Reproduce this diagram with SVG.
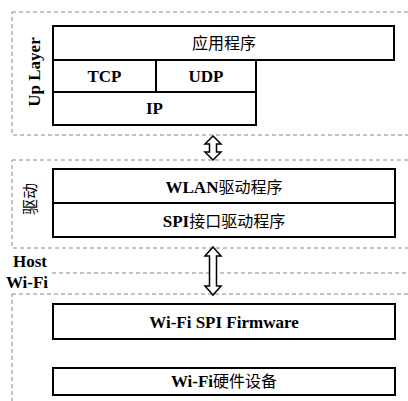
<svg xmlns="http://www.w3.org/2000/svg" width="408" height="401" viewBox="0 0 408 401">
<style>
.zone{fill:none;stroke:#888;stroke-width:1;stroke-dasharray:4,3}
.box{fill:#fff;stroke:#000;stroke-width:2}
.t{font-family:"Liberation Serif","Noto Sans CJK SC",serif;font-weight:bold;font-size:17px;text-anchor:middle;fill:#000}
.c{font-family:"Liberation Serif","Noto Sans CJK SC",serif;font-weight:normal;font-size:16px;text-anchor:middle;fill:#000}
.k{font-weight:normal;font-size:16px}
.arr{fill:#fff;stroke:#000;stroke-width:1.5;stroke-linejoin:miter}
</style>
<rect width="408" height="401" fill="#fff"/>
<g id="zones">
<rect class="zone" x="12" y="12" width="410" height="123"/>
<rect class="zone" x="12" y="160" width="410" height="88"/>
<rect class="zone" x="12" y="294" width="410" height="120"/>
<line class="zone" x1="52" y1="273" x2="408" y2="273" stroke="#aaa"/>
</g>
<g id="labels">
<text class="t" transform="translate(40,72) rotate(-90)">Up Layer</text>
<text class="c" transform="translate(30,199) rotate(-90)" dominant-baseline="central" font-size="15">驱动</text>
<text class="t" x="30" y="267">Host</text>
<text class="t" x="27" y="288">Wi-Fi</text>
</g>
<g id="app"><rect class="box" x="53" y="26" width="341" height="34"/><text class="c" x="224" y="49">应用程序</text></g>
<g id="tcp"><rect class="box" x="53" y="60" width="103" height="32"/><text class="t" x="104.5" y="82">TCP</text></g>
<g id="udp"><rect class="box" x="156" y="60" width="100" height="32"/><text class="t" x="206" y="82">UDP</text></g>
<g id="ip"><rect class="box" x="53" y="92" width="203" height="33"/><text class="t" x="154.5" y="114">IP</text></g>
<g id="wlan"><rect class="box" x="53" y="169" width="342" height="34"/><text class="t" x="224" y="193">WLAN<tspan class="k">驱动程序</tspan></text></g>
<g id="spi"><rect class="box" x="53" y="203" width="342" height="34"/><text class="t" x="224" y="227">SPI<tspan class="k">接口驱动程序</tspan></text></g>
<g id="firmware"><rect class="box" x="53" y="304" width="342" height="35"/><text class="t" x="224" y="328">Wi-Fi SPI Firmware</text></g>
<g id="hw"><rect class="box" x="53" y="368" width="342" height="27"/><text class="t" x="224" y="387">Wi-Fi<tspan class="k">硬件设备</tspan></text></g>
<g id="connectors">
<polygon class="arr" points="213,136 221,144 216.5,144 216.5,152 221,152 213,160 205,152 209.5,152 209.5,144 205,144"/>
<polygon class="arr" points="213,247 221,256 216.5,256 216.5,286 221,286 213,295 205,286 209.5,286 209.5,256 205,256"/>
</g>
</svg>
